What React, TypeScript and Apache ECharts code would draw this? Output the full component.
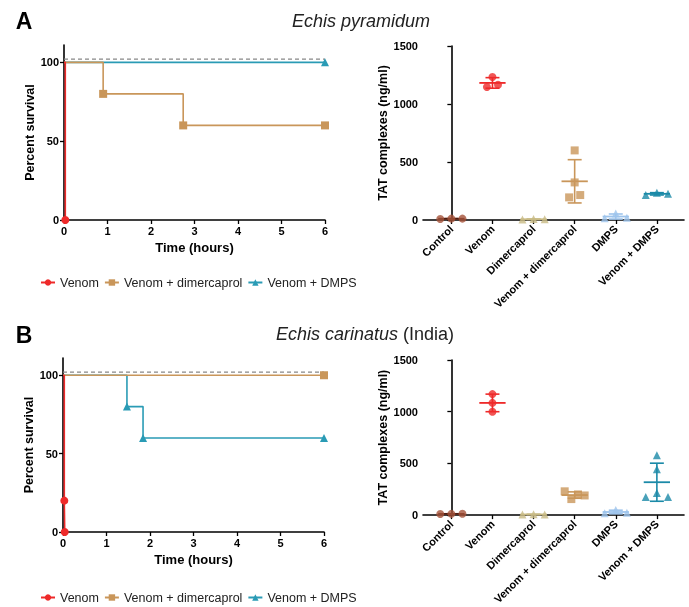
import React, { useEffect, useRef } from "react";
import * as echarts from "echarts";

const FONT = "'Liberation Sans', Arial, sans-serif";

// ---------- Survival data (time in hours, percent survival) ----------
const survA_venom: number[][] = [[0, 100], [0.03, 0]];
const survA_dimer: number[][] = [[0, 100], [0.9, 80], [2.74, 60], [6, 60]];
const survA_dmps: number[][] = [[0, 100], [6, 100]];
const survB_venom: number[][] = [[0, 100], [0.03, 20], [0.04, 0]];
const survB_dimer: number[][] = [[0, 100], [6, 100]];
const survB_dmps: number[][] = [[0, 100], [1.47, 80], [1.84, 60], [6, 60]];
const survivalRef = 102; // dashed reference line
const survTicksX = [0, 1, 2, 3, 4, 5, 6];
const survTicksY = [0, 50, 100];

// ---------- TAT data (ng/ml) ----------
const groups = ["Control", "Venom", "Dimercaprol", "Venom + dimercaprol", "DMPS", "Venom + DMPS"];
const tatA_control = [8, 12, 12];
const tatA_venom = [1146, 1233, 1166];
const tatA_dimer = [5, 8, 6];
const tatA_vdimer = [195, 324, 600, 215];
const tatA_dmps = [15, 55, 20];
const tatA_vdmps = [215, 235, 227];
const tatB_control = [10, 12, 13];
const tatB_venom = [1000, 1085, 1170];
const tatB_dimer = [5, 8, 6];
const tatB_vdimer = [230, 155, 200, 190];
const tatB_dmps = [18, 50, 22];
const tatB_vdmps = [176, 214, 176, 444, 580];
const tatTicks = [0, 500, 1000, 1500];

const C_RED = "#ee2a2a";
const C_TAN = "#c9965a";
const C_TEAL = "#2a9bb5";
const groupColors = ["#a5533a", C_RED, "#c8ba84", C_TAN, "#9ec4ec", "#1b8aa8"];
const meanColors = ["#4a1c12", C_RED, "#c8ba84", C_TAN, "#9ec4ec", "#1b8aa8"];
const groupSymbols = ["circle", "circle", "triangle", "rect", "triangle", "triangle"];

// dot-plot row layout: values close together share a row and spread horizontally
function layoutGroup(vals: number[], gi: number, rowGap: number, step: number) {
  const idx = vals.map((_, i) => i).sort((a, b) => vals[a] - vals[b]);
  const rows: number[][] = [];
  let cur: number[] = [];
  let prev = -Infinity;
  for (const i of idx) {
    if (cur.length && vals[i] - prev >= rowGap) {
      rows.push(cur);
      cur = [];
    }
    cur.push(i);
    prev = vals[i];
  }
  if (cur.length) rows.push(cur);
  const out: number[][] = [];
  for (const r of rows) {
    r.sort((a, b) => a - b);
    const st = r.length > 3 ? step * 0.6 : step;
    r.forEach((i, k) => out.push([gi + (k - (r.length - 1) / 2) * st, vals[i]]));
  }
  return out;
}

function meanSd(v: number[]) {
  const m = v.reduce((a, b) => a + b, 0) / v.length;
  const s = Math.sqrt(v.reduce((a, b) => a + (b - m) * (b - m), 0) / (v.length - 1));
  return [m, s];
}

const axisCommon = {
  axisLine: { show: true, lineStyle: { color: "#000", width: 1.6 } },
  axisTick: { show: true, length: 4, lineStyle: { color: "#000", width: 1.3 } },
  splitLine: { show: false },
  axisLabel: { color: "#000", fontWeight: "bold" as const, fontSize: 11, fontFamily: FONT },
  nameTextStyle: { color: "#000", fontWeight: "bold" as const, fontSize: 12.5, fontFamily: FONT },
};

function survivalSeries(idx: number, venom: number[][], dimer: number[][], dmps: number[][]) {
  const mk = (d: number[][]) => d.map((p, i) => (i === 0 ? { value: p, symbol: "none" } : { value: p }));
  const base = { type: "line", step: "end", xAxisIndex: idx, yAxisIndex: idx, symbolSize: 8, showSymbol: true, lineStyle: { width: 1.6 } };
  return [
    {
      type: "line", xAxisIndex: idx, yAxisIndex: idx, symbol: "none", silent: true,
      data: [[0, survivalRef], [6, survivalRef]],
      lineStyle: { color: "#888", width: 1.3, type: [4, 3] },
    },
    { ...base, name: "Venom + DMPS", symbol: "triangle", color: C_TEAL, itemStyle: { color: C_TEAL }, data: mk(dmps) },
    { ...base, name: "Venom + dimercaprol", symbol: "rect", color: C_TAN, itemStyle: { color: C_TAN }, data: mk(dimer) },
    { ...base, name: "Venom", symbol: "circle", color: C_RED, itemStyle: { color: C_RED }, data: mk(venom) },
  ];
}

function tatSeries(idx: number, sets: number[][]) {
  const out: any[] = [];
  const bars = sets.map((v, gi) => {
    const [m, s] = meanSd(v);
    return [gi, m, s];
  });
  out.push({
    type: "custom",
    xAxisIndex: idx,
    yAxisIndex: idx,
    silent: true,
    z: 3,
    data: bars,
    encode: { x: 0, y: 1 },
    renderItem: (params: any, api: any) => {
      const x = api.value(0), m = api.value(1), s = api.value(2);
      const gi = params.dataIndex;
      const col = groupColors[gi];
      const c = api.coord([x, m]);
      const hi = api.coord([x, m + s]);
      const lo = api.coord([x, m - s]);
      const mL = api.coord([x - 0.32, m]);
      const mR = api.coord([x + 0.32, m]);
      const cL = api.coord([x - 0.17, m]);
      const cR = api.coord([x + 0.17, m]);
      const st = { stroke: col, lineWidth: 1.6 };
      return {
        type: "group",
        children: [
          { type: "line", shape: { x1: c[0], y1: hi[1], x2: c[0], y2: lo[1] }, style: st },
          { type: "line", shape: { x1: cL[0], y1: hi[1], x2: cR[0], y2: hi[1] }, style: st },
          { type: "line", shape: { x1: cL[0], y1: lo[1], x2: cR[0], y2: lo[1] }, style: st },
          { type: "line", shape: { x1: mL[0], y1: c[1], x2: mR[0], y2: c[1] }, style: { stroke: meanColors[gi], lineWidth: 1.8 } },
        ],
      };
    },
  });
  sets.forEach((v, gi) => {
    out.push({
      type: "scatter",
      xAxisIndex: idx,
      yAxisIndex: idx,
      z: 4,
      symbol: groupSymbols[gi],
      symbolSize: 8,
      itemStyle: { color: groupColors[gi] },
      data: layoutGroup(v, gi, 60, 0.27),
    });
  });
  return out;
}

const legendCommon = {
  data: ["Venom", "Venom + dimercaprol", "Venom + DMPS"],
  itemWidth: 14,
  itemHeight: 8,
  itemGap: 5,
  padding: 0,
  textStyle: { fontSize: 12.5, color: "#222", fontFamily: FONT },
};

const plain = (v: number) => String(v);

function survX(grid: number) {
  return {
    type: "value", gridIndex: grid, min: 0, max: 6, interval: 1,
    name: "Time (hours)", nameLocation: "middle", nameGap: 21,
    ...axisCommon,
    axisLabel: { ...axisCommon.axisLabel, margin: 5, customValues: survTicksX, formatter: plain },
    axisTick: { ...axisCommon.axisTick, customValues: survTicksX },
    nameTextStyle: { ...axisCommon.nameTextStyle, fontSize: 13 },
  };
}
function survY(grid: number) {
  return {
    type: "value", gridIndex: grid, min: 0, max: 111,
    name: "Percent survival", nameLocation: "middle", nameGap: 28,
    ...axisCommon,
    axisLabel: { ...axisCommon.axisLabel, margin: 5, customValues: survTicksY, formatter: plain },
    axisTick: { ...axisCommon.axisTick, customValues: survTicksY },
  };
}
function tatX(grid: number) {
  const vals = groups.map((_, i) => i);
  return {
    type: "value", gridIndex: grid, min: -0.69, max: 5.66,
    ...axisCommon,
    axisLabel: {
      ...axisCommon.axisLabel, rotate: 45, margin: 7, customValues: vals,
      formatter: (v: number) => groups[Math.round(v)] ?? "",
    },
    axisTick: { ...axisCommon.axisTick, customValues: vals },
  };
}
function tatY(grid: number) {
  return {
    type: "value", gridIndex: grid, min: 0, max: 1500, interval: 500,
    name: "TAT complexes (ng/ml)", nameLocation: "middle", nameGap: 34,
    ...axisCommon,
    axisLabel: { ...axisCommon.axisLabel, margin: 5, customValues: tatTicks, formatter: plain },
    axisTick: { ...axisCommon.axisTick, customValues: tatTicks },
  };
}

export default function App() {
  const ref = useRef<HTMLDivElement>(null);
  useEffect(() => {
    if (!ref.current) return;
    const chart = echarts.init(ref.current, undefined, { renderer: "svg" });
    chart.setOption({
      animation: false,
      textStyle: { fontFamily: FONT },
      grid: [
        { left: 64, top: 45, width: 261, height: 175 },
        { left: 423, top: 46, width: 261, height: 174 },
        { left: 63, top: 358, width: 261, height: 174 },
        { left: 423, top: 360, width: 261, height: 173 },
      ],
      xAxis: [survX(0), tatX(1), survX(2), tatX(3)],
      yAxis: [survY(0), tatY(1), survY(2), tatY(3)],
      legend: [
        { ...legendCommon, left: 40, top: 276 },
        { ...legendCommon, left: 40, top: 591 },
      ],
      graphic: [
        { type: "text", x: 24, y: 21, style: { text: "A", font: `bold 23px ${FONT}`, fill: "#000", align: "center", verticalAlign: "middle" } },
        { type: "text", x: 24, y: 335, style: { text: "B", font: `bold 23px ${FONT}`, fill: "#000", align: "center", verticalAlign: "middle" } },
        { type: "text", x: 361, y: 21, style: { text: "Echis pyramidum", font: `italic 18px ${FONT}`, fill: "#222", align: "center", verticalAlign: "middle" } },
        {
          type: "text", x: 365, y: 334,
          style: {
            text: "{i|Echis carinatus} (India)", font: `18px ${FONT}`, fill: "#222", align: "center", verticalAlign: "middle",
            rich: { i: { fontStyle: "italic", fontSize: 18, fontFamily: FONT, fill: "#222" } },
          },
        },
      ],
      series: [
        ...survivalSeries(0, survA_venom, survA_dimer, survA_dmps),
        ...tatSeries(1, [tatA_control, tatA_venom, tatA_dimer, tatA_vdimer, tatA_dmps, tatA_vdmps]),
        ...survivalSeries(2, survB_venom, survB_dimer, survB_dmps),
        ...tatSeries(3, [tatB_control, tatB_venom, tatB_dimer, tatB_vdimer, tatB_dmps, tatB_vdmps]),
      ],
    });
    return () => chart.dispose();
  }, []);
  return <div ref={ref} style={{ position: "fixed", left: 0, top: 0, width: 689, height: 607 }} />;
}
